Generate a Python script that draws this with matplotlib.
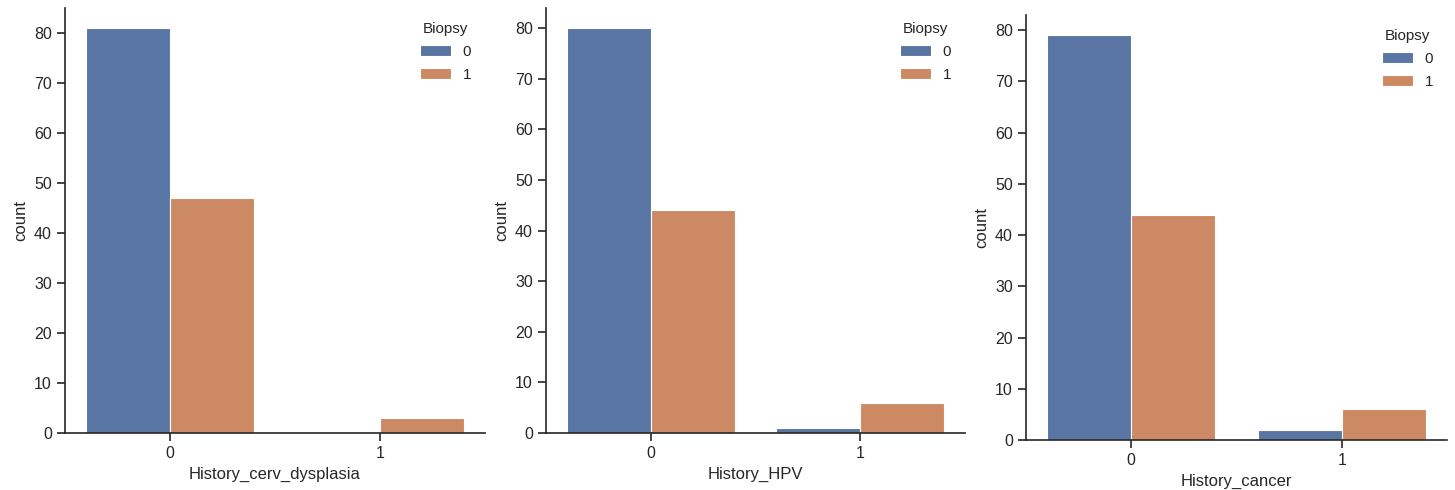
import matplotlib
matplotlib.use("Agg")
import matplotlib.pyplot as plt
from matplotlib.ticker import MultipleLocator
import numpy as np

# counts per category, split by Biopsy (0 / 1)
features = ["History_cerv_dysplasia", "History_HPV", "History_cancer"]
categories = ["0", "1"]
biopsy_0 = [[81, 0], [80, 1], [79, 2]]
biopsy_1 = [[47, 3], [44, 6], [44, 6]]
hue_labels = ["0", "1"]

colors = ["#5975A4", "#CC8963"]
dark = "#262626"

plt.rcParams["font.family"] = ["Liberation Sans", "DejaVu Sans"]
plt.rcParams["axes.edgecolor"] = dark
plt.rcParams["xtick.color"] = dark
plt.rcParams["ytick.color"] = dark
plt.rcParams["text.color"] = dark
plt.rcParams["axes.labelcolor"] = dark

fig = plt.figure(figsize=(14.55, 4.9), dpi=100)

# axes boxes in figure fraction (left, bottom, width, height)
boxes = [
    (65 / 1455, 57 / 490, 420 / 1455, 425 / 490),
    (546 / 1455, 57 / 490, 419 / 1455, 425 / 490),
    (1026 / 1455, 50 / 490, 421 / 1455, 425 / 490),
]

width = 0.4
x = np.arange(len(categories))

for i, feat in enumerate(features):
    ax = fig.add_axes(boxes[i])
    ax.bar(x - width / 2, biopsy_0[i], width, color=colors[0],
           edgecolor="white", linewidth=0.8, label=hue_labels[0])
    ax.bar(x + width / 2, biopsy_1[i], width, color=colors[1],
           edgecolor="white", linewidth=0.8, label=hue_labels[1])
    ax.set_xticks(x)
    ax.set_xticklabels(categories)
    ax.set_xlim(-0.5, 1.5)
    top = max(max(biopsy_0[i]), max(biopsy_1[i]))
    ax.set_ylim(0, top * 1.05)
    ax.yaxis.set_major_locator(MultipleLocator(10))
    ax.set_xlabel(feat, fontsize=12)
    ax.set_ylabel("count", fontsize=12)
    ax.tick_params(labelsize=11.5, length=6, width=1.2, direction="out")
    for s in ["top", "right"]:
        ax.spines[s].set_visible(False)
    for s in ["left", "bottom"]:
        ax.spines[s].set_linewidth(1.2)
    leg = ax.legend(title="Biopsy", loc="upper right", frameon=False,
                    fontsize=11, title_fontsize=11, labelspacing=0.6)

fig.savefig("out.png", dpi=100)
